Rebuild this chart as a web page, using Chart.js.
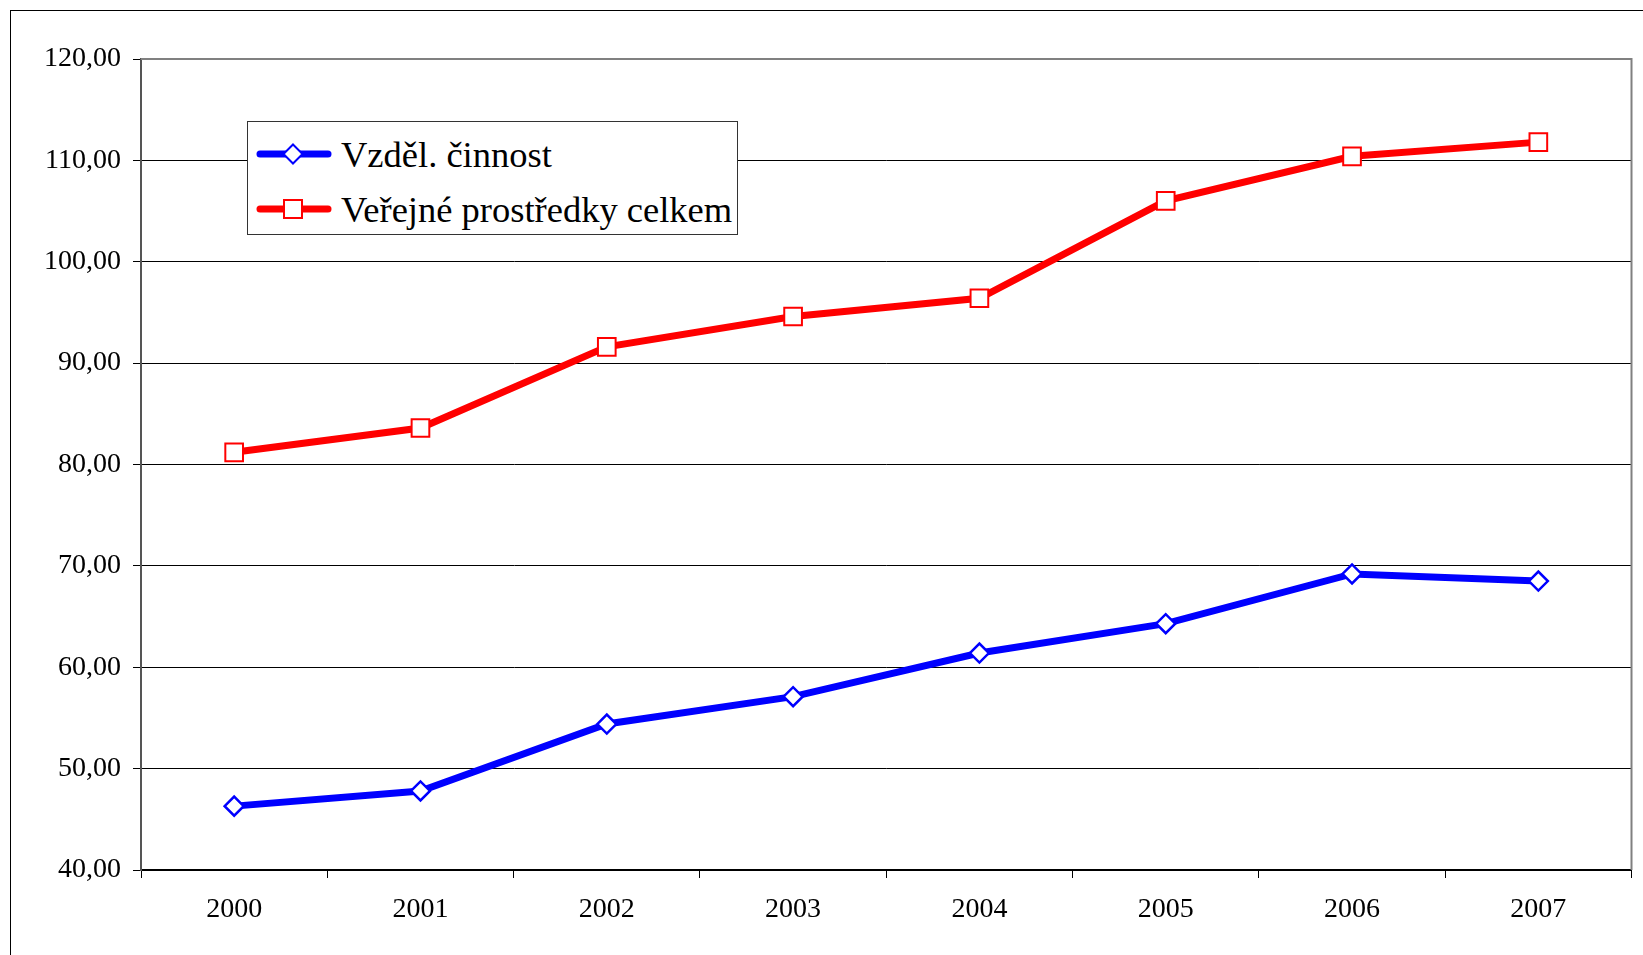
<!DOCTYPE html>
<html>
<head>
<meta charset="utf-8">
<script src="https://cdn.jsdelivr.net/npm/chart.js@4"></script>
<style>
  body { margin: 0; background: #fff; }
  #wrap { position: relative; width: 1643px; height: 955px; overflow: hidden; }
  #frame { position: absolute; left: 10px; top: 10px; right: -5px; bottom: -5px;
           border-left: 1px solid #000; border-top: 1px solid #000; }
  #legend { position: absolute; left: 247px; top: 121px; width: 489px; height: 112px;
            border: 1px solid #333; background: #fff;
            font-family: "Liberation Serif", "Times New Roman", serif; font-size: 36.5px; color: #000; }
  .item { position: absolute; left: 8px; height: 40px; display: flex; align-items: center; }
  .item svg { margin-right: 9px; }
</style>
</head>
<body>
<div id="wrap">
  <div id="frame"></div>
  <!-- canvas a bit wider than the window, chart.js keeps ~14px on the right -->
  <canvas id="chart" width="1646" height="955"></canvas>
  <div id="legend"></div>
</div>
<script>
// data
const years = ["2000", "2001", "2002", "2003", "2004", "2005", "2006", "2007"];
const vzdelCinnost = [46.3, 47.8, 54.4, 57.1, 61.4, 64.3, 69.2, 68.5];
const verejneProstredky = [81.2, 83.6, 91.6, 94.6, 96.4, 106.0, 110.4, 111.8];
const yMin = 40, yMax = 120, yStep = 10;

const seriesNames = ["Vzděl. činnost", "Veřejné prostředky celkem"];
const seriesColors = ["#0000ff", "#ff0000"];

const serif = "'Liberation Serif', 'Times New Roman', serif";

// gray border round the plot area (top and right)
const plotBorder = {
  id: "plotBorder",
  afterDatasetsDraw(chart) {
    const { ctx, chartArea: a } = chart;
    ctx.save();
    ctx.strokeStyle = "#808080";
    ctx.lineWidth = 2;
    ctx.beginPath();
    ctx.moveTo(a.left, a.top);
    ctx.lineTo(a.right, a.top);
    ctx.lineTo(a.right, a.bottom);
    ctx.stroke();
    ctx.restore();
  },
};

const ctx = document.getElementById("chart").getContext("2d");
const chart = new Chart(ctx, {
  type: "line",
  data: {
    labels: years,
    datasets: [
      {
        label: seriesNames[0],
        data: vzdelCinnost,
        borderColor: seriesColors[0],
        borderWidth: 7,
        pointStyle: "rectRot",
        pointRadius: 9.5,
        pointBorderWidth: 2.5,
        pointBorderColor: seriesColors[0],
        pointBackgroundColor: "#fff",
        tension: 0,
      },
      {
        label: seriesNames[1],
        data: verejneProstredky,
        borderColor: seriesColors[1],
        borderWidth: 7,
        pointStyle: "rect",
        pointRadius: 12.5,
        pointBorderWidth: 2,
        pointBorderColor: seriesColors[1],
        pointBackgroundColor: "#fff",
        tension: 0,
      },
    ],
  },
  options: {
    responsive: false,
    animation: false,
    events: [],
    layout: { padding: { top: 59, right: 11, bottom: 0, left: 0 } },
    plugins: { legend: { display: false }, tooltip: { enabled: false } },
    scales: {
      x: {
        offset: true,
        afterFit: (s) => {
          s.height = 85;
          s.paddingLeft = 0;
          s.paddingRight = 0;
        },
        grid: { offset: true, drawOnChartArea: false, drawTicks: true, tickLength: 8, color: "#000", lineWidth: 1 },
        border: { color: "#000", width: 2 },
        ticks: { color: "#000", font: { family: serif, size: 28 }, padding: 15, maxRotation: 0 },
      },
      y: {
        min: yMin,
        max: yMax,
        afterFit: (s) => { s.width = 141; },
        grid: {
          color: (c) => (c.tick && c.tick.value === yMax ? "rgba(0,0,0,0)" : "#000"),
          tickColor: "#000",
          lineWidth: 1,
          tickLength: 8,
        },
        border: { color: "#555", width: 2 },
        ticks: {
          stepSize: yStep,
          color: "#000",
          padding: 12,
          font: { family: serif, size: 28 },
          callback: (v) => v.toFixed(2).replace(".", ","),
        },
      },
    },
  },
  plugins: [plotBorder],
});

// legend box drawn as html from the dataset settings
const legend = document.getElementById("legend");
chart.data.datasets.forEach((ds, i) => {
  const row = document.createElement("div");
  row.className = "item";
  row.style.top = (i === 0 ? 12 : 67) + "px";
  const c = ds.borderColor;
  let marker;
  if (ds.pointStyle === "rectRot") {
    marker = `<polygon points="37,1.5 46.5,11 37,20.5 27.5,11" fill="#fff" stroke="${c}" stroke-width="2"/>`;
  } else {
    marker = `<rect x="28" y="2" width="18" height="18" fill="#fff" stroke="${c}" stroke-width="2"/>`;
  }
  row.innerHTML = `<svg width="76" height="22" viewBox="0 0 76 22">
      <line x1="4" y1="11" x2="72" y2="11" stroke="${c}" stroke-width="7" stroke-linecap="round"/>
      ${marker}</svg><span>${ds.label}</span>`;
  legend.appendChild(row);
});
</script>
</body>
</html>
